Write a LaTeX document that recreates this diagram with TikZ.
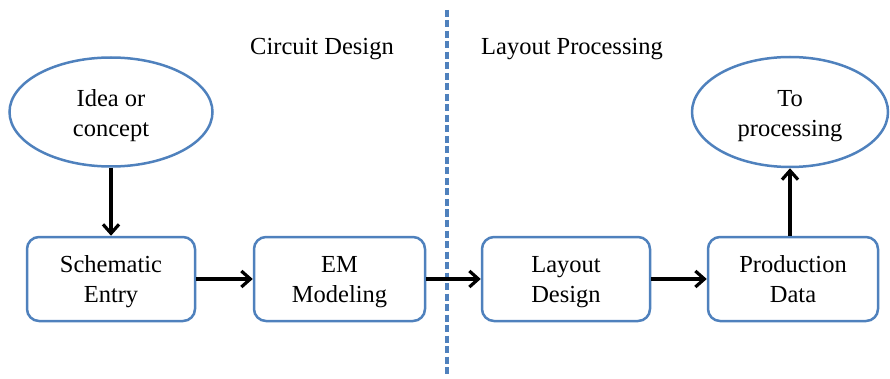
\documentclass[tikz,border=0pt]{standalone}
\usepackage{fontspec}
\setmainfont{Liberation Serif}
\usetikzlibrary{shapes.geometric,arrows.meta}
\definecolor{officeblue}{RGB}{79,129,189}
\newcommand\bxs{\rule[-7pt]{0pt}{30pt}}
\newcommand\ovs{\rule[-5pt]{0pt}{30pt}}
\begin{document}
\begin{tikzpicture}[x=1pt,y=-1pt,
  txt/.style={font=\fontsize{24.5}{30}\selectfont, align=center, text=black},
  procbox/.style={txt, draw=officeblue, line width=2.5pt, rounded corners=12pt, minimum height=84pt, inner sep=0pt},
  oval/.style={txt, ellipse, draw=officeblue, line width=2.5pt, inner sep=0pt},
  flow/.style={line width=3.2pt, -{Straight Barb[length=9pt,width=16pt]}}]
\useasboundingbox (0,0) rectangle (890,379);
\node[oval, minimum width=203pt, minimum height=109pt] (idea) at (111,112) {\ovs Idea or\\\ovs concept};
\node[oval, minimum width=196pt, minimum height=110pt] (proc) at (790,112) {\ovs To\\\ovs processing};
\node[procbox, minimum width=168pt] (sch) at (111,279) {\bxs Schematic\\\bxs Entry};
\node[procbox, minimum width=171pt] (em) at (339.5,279) {\bxs EM\\\bxs Modeling};
\node[procbox, minimum width=168pt] (lay) at (566,279) {\bxs Layout\\\bxs Design};
\node[procbox, minimum width=170pt] (prod) at (793,279) {\bxs Production\\\bxs Data};
\coordinate (dtop) at (447,10);
\coordinate (dbot) at (447,376);
\draw[officeblue, line width=3.5pt, dash pattern=on 7pt off 3.5pt] (dtop) -- (dbot);
\node[txt, anchor=base] (cd) at (322,55) {Circuit Design};
\node[txt, anchor=base] (lp) at (572,55) {Layout Processing};
\draw[flow] (idea.south) -- (sch.north);
\draw[flow] (sch.east) -- (em.west);
\draw[flow] (em.east) -- (lay.west);
\draw[flow] (lay.east) -- (prod.west);
\draw[flow] (proc.south |- prod.north) -- (proc.south);
\end{tikzpicture}
\end{document}
